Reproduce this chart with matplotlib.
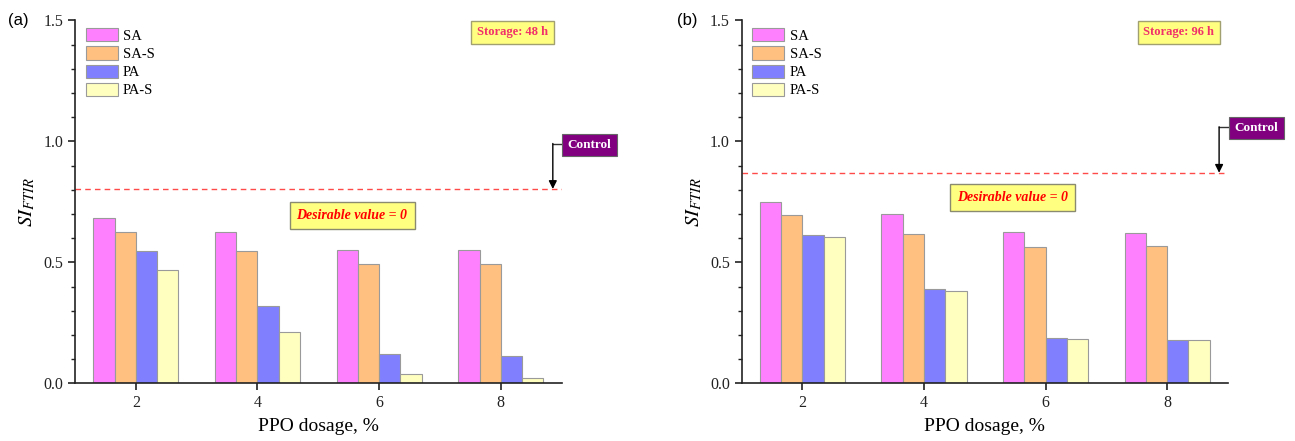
import numpy as np
import matplotlib
matplotlib.use('Agg')
import matplotlib.pyplot as plt
from matplotlib.ticker import MultipleLocator

plt.rcParams['font.family'] = 'Liberation Serif'
plt.rcParams['mathtext.fontset'] = 'stix'

# PPO dosage groups
doses = [2, 4, 6, 8]
series_names = ['SA', 'SA-S', 'PA', 'PA-S']

# storage 48 h
sa_48 = [0.683, 0.627, 0.551, 0.550]
sas_48 = [0.627, 0.547, 0.493, 0.494]
pa_48 = [0.547, 0.319, 0.121, 0.113]
pas_48 = [0.468, 0.212, 0.037, 0.024]
control_48 = 0.803

# storage 96 h
sa_96 = [0.750, 0.698, 0.624, 0.622]
sas_96 = [0.694, 0.616, 0.565, 0.566]
pa_96 = [0.611, 0.388, 0.186, 0.179]
pas_96 = [0.605, 0.380, 0.183, 0.180]
control_96 = 0.870

colors = ['#FF80FF', '#FFC080', '#8080FF', '#FFFFC0']
bar_w = 0.35
offsets = [-1.5 * bar_w, -0.5 * bar_w, 0.5 * bar_w, 1.5 * bar_w]

fig = plt.figure(figsize=(12.95, 4.41), dpi=100)
ax_a = fig.add_axes([0.0579, 0.1308, 0.3758, 0.8231])
ax_b = fig.add_axes([0.5727, 0.1308, 0.3755, 0.8231])

panels = [
    (ax_a, [sa_48, sas_48, pa_48, pas_48], control_48, 'Storage: 48 h',
     (5.555, 0.693), 0.991, (9.46, 0.985)),
    (ax_b, [sa_96, sas_96, pa_96, pas_96], control_96, 'Storage: 96 h',
     (5.46, 0.767), 1.060, (9.47, 1.055)),
]

x = np.array(doses, dtype=float)
arrow_x = 8.855

for ax, vals, ctrl, storage, des_pos, conn_y, ctrl_pos in panels:
    for i in range(4):
        ax.bar(x + offsets[i], vals[i], width=bar_w, color=colors[i],
               edgecolor='#9a9a9a', linewidth=0.8, label=series_names[i], zorder=2)

    # control line
    ax.axhline(ctrl, color='#FF4a4a', linestyle=(0, (4, 3)), linewidth=1.0, zorder=1)

    ax.set_xlim(1, 9)
    ax.set_ylim(0, 1.5)
    ax.set_xticks(doses)
    ax.yaxis.set_major_locator(MultipleLocator(0.5))
    ax.yaxis.set_minor_locator(MultipleLocator(0.1))
    ax.yaxis.set_major_formatter(matplotlib.ticker.FormatStrFormatter('%.1f'))
    for s in ['top', 'right']:
        ax.spines[s].set_visible(False)
    for s in ['left', 'bottom']:
        ax.spines[s].set_linewidth(1.2)
        ax.spines[s].set_color('#222222')
    ax.tick_params(axis='both', which='major', direction='out', length=5,
                   width=1.2, labelsize=11.5, colors='#222222', labelcolor='#222222')
    ax.tick_params(axis='y', which='minor', direction='out', length=3, width=1.0,
                   colors='#222222')

    ax.set_xlabel('PPO dosage, %', fontsize=14, labelpad=5)
    ax.set_ylabel(r'$\mathit{SI}_{\mathit{FTIR}}$', fontsize=15, labelpad=4)

    ax.legend(loc='upper left', bbox_to_anchor=(0.022, 0.978), frameon=False,
              fontsize=10.5, handlelength=2.2, handleheight=1.0,
              labelspacing=0.25, handletextpad=0.35, borderpad=0,
              borderaxespad=0)

    # storage label
    ax.text(arrow_x - 0.08, 1.45, storage, ha='right', va='center', fontsize=9,
            fontweight='bold', color='#F0306A',
            bbox=dict(boxstyle='square,pad=0.45', facecolor='#FFFF80',
                      edgecolor='#A0A070', linewidth=1.0), clip_on=False)

    # desirable value label
    ax.text(des_pos[0], des_pos[1], 'Desirable value = 0', ha='center', va='center',
            fontsize=10, fontweight='bold', fontstyle='italic', color='#FF0000',
            bbox=dict(boxstyle='square,pad=0.5', facecolor='#FFFF80',
                      edgecolor='#8a8a70', linewidth=1.0))

    # control label and arrow
    ax.text(ctrl_pos[0], ctrl_pos[1], 'Control', ha='center', va='center',
            fontsize=9.5, fontweight='bold', color='white',
            bbox=dict(boxstyle='square,pad=0.4', facecolor='#800080',
                      edgecolor='#666666', linewidth=0.8), clip_on=False)
    ax.plot([9.0, arrow_x], [conn_y, conn_y], color='#333333', linewidth=1.0,
            clip_on=False)
    ax.annotate('', xy=(arrow_x, ctrl), xytext=(arrow_x, conn_y),
                arrowprops=dict(arrowstyle='-|>', color='black', lw=1.0,
                                mutation_scale=12, shrinkA=0, shrinkB=0),
                annotation_clip=False)

fig.text(8 / 1295, 1 - 20 / 441, '(a)', family='Liberation Sans', fontsize=12,
         va='center', ha='left')
fig.text(677 / 1295, 1 - 20 / 441, '(b)', family='Liberation Sans', fontsize=12,
         va='center', ha='left')

fig.savefig('out.png', dpi=100)
